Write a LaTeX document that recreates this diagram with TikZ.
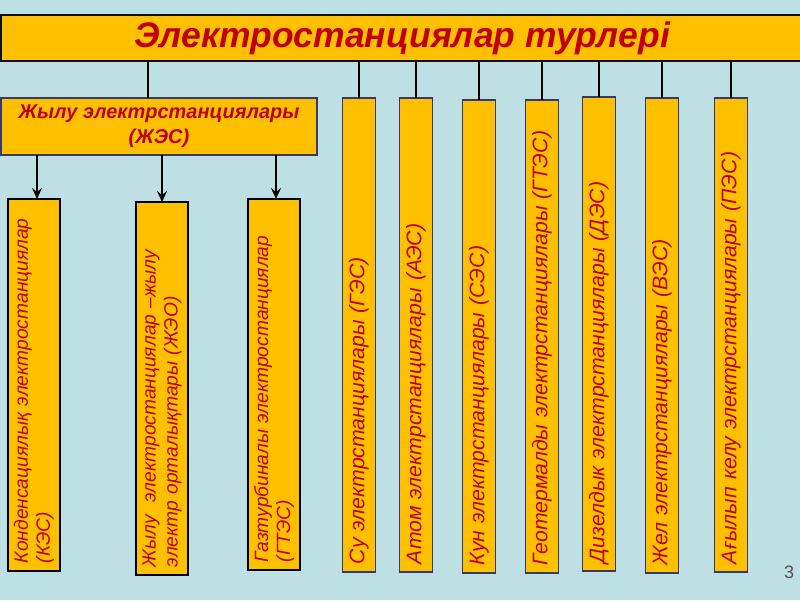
\documentclass[tikz,border=0pt]{standalone}
\usepackage{fontspec}
\setmainfont{Liberation Sans}
\usetikzlibrary{arrows.meta}
\definecolor{bg}{RGB}{190,224,228}
\definecolor{boxfill}{RGB}{255,192,0}
\definecolor{txtred}{RGB}{192,0,0}
\definecolor{navy}{RGB}{52,58,108}
\definecolor{pgnum}{RGB}{80,80,80}
\begin{document}
\begin{tikzpicture}[x=1pt,y=-1pt,
  box/.style={draw=navy, line width=1.5pt, fill=boxfill, inner sep=0pt, outer sep=0pt, text=txtred},
  vbox/.style={box, rotate=90, align=left, inner xsep=8pt, minimum height=33pt},
  kbox/.style={vbox, draw=black, minimum height=52pt, font=\fontsize{19.2}{22}\selectfont\itshape},
  rbox/.style={vbox, font=\fontsize{21.2}{24}\selectfont\itshape},
  conn/.style={line width=1.4pt, draw=black},
  arr/.style={conn, -{Stealth[length=11pt,width=10pt,inset=4pt]}}
]
\useasboundingbox (0,0) rectangle (800,600);
\fill[bg] (0,0) rectangle (800,600);

\node[box, draw=black!75!navy, minimum width=802pt, minimum height=46pt,
      font=\fontsize{35.5}{38}\selectfont\bfseries\itshape] (top) at (402,38) {Электростанциялар турлері};

\node[box, minimum width=316pt, minimum height=57pt, align=center,
      font=\fontsize{20}{25}\selectfont\bfseries\itshape] (jes) at (159,126.5) {Жылу электрстанциялары\\(ЖЭС)};

% children of ЖЭС
\node[kbox, minimum width=372pt, text width=356pt] (kes) at (34,385) {Конденсациялық электростанциялар\\(КЭС)};
\node[kbox, minimum width=373pt, text width=357pt] (jeo) at (162,388.5) {Жылу~ электростанциялар –жылу\\электр орталықтары (ЖЭО)};
\node[kbox, minimum width=371pt, text width=355pt] (gtes) at (274,384.5) {Газтурбиналы электростанциялар\\(ГТЭС)};

% right boxes
\node[rbox, minimum width=474pt, text width=458pt] (su) at (359,335) {Су электрстанциялары (ГЭС)};
\node[rbox, minimum width=474pt, text width=458pt] (atom) at (416,335) {Атом электрстанциялары (АЭС)};
\node[rbox, minimum width=473pt, text width=457pt] (kun) at (479,336.5) {Кун электрстанциялары (СЭС)};
\node[rbox, minimum width=473pt, text width=457pt] (geo) at (542,336.5) {Геотермалды электрстанциялары (ГТЭС)};
\node[rbox, minimum width=474pt, text width=458pt] (diz) at (599,334) {Дизелдык электрстанциялары (ДЭС)};
\node[rbox, minimum width=475pt, text width=459pt] (jel) at (662,335.5) {Жел электрстанциялары (ВЭС)};
\node[rbox, minimum width=474pt, text width=458pt] (agy) at (731,335) {Ағылып келу электрстанциялары (ПЭС)};

% connectors from top
\draw[conn] (top.south -| jes.north) ++(-11,0) coordinate (c0) -- (c0 |- jes.north);
\foreach \n in {su,atom,kun,geo,diz,jel,agy}
  \draw[conn] (top.south -| \n.east) -- (\n.east);

% arrows from ЖЭС
\draw[arr] (jes.south -| kes.east) ++(3,0) coordinate (a1) -- (a1 |- kes.east);
\draw[arr] (jes.south -| jeo.east) -- (jeo.east);
\draw[arr] (jes.south -| gtes.east) ++(2,0) coordinate (a3) -- (a3 |- gtes.east);

\node[text=pgnum, font=\fontsize{18}{20}\selectfont] (pg) at (789,572) {3};
\end{tikzpicture}
\end{document}
